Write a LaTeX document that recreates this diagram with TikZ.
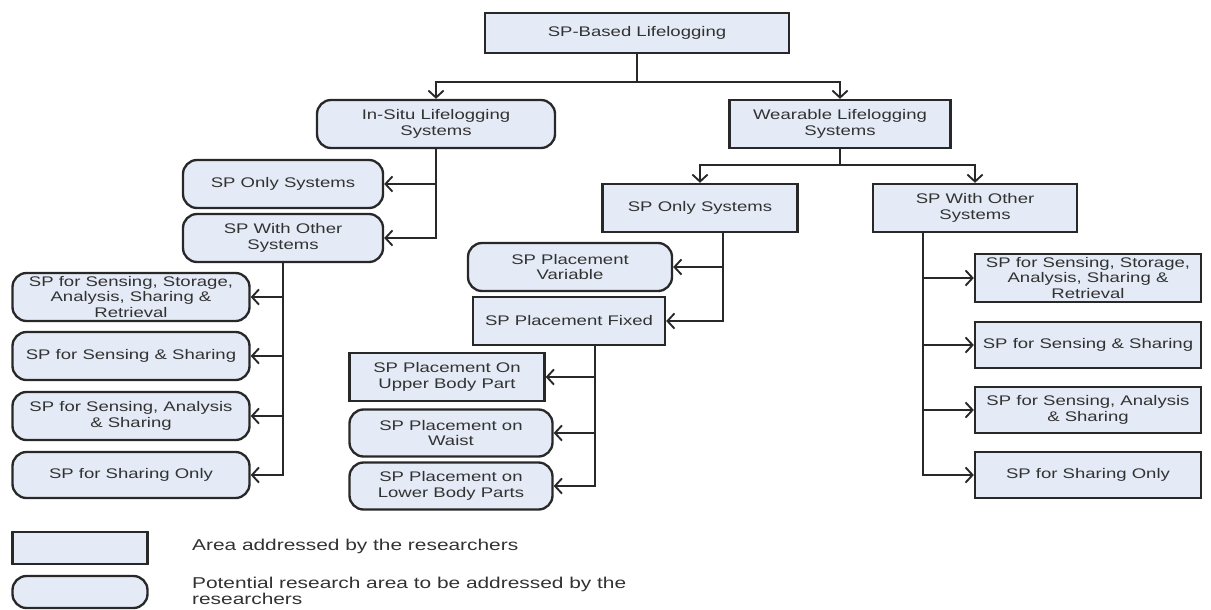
\documentclass[tikz,border=0pt]{standalone}
\usepackage{fontspec}
\setmainfont{Liberation Sans}[FakeStretch=1.33]
\usetikzlibrary{arrows.meta}
\definecolor{boxfill}{RGB}{229,235,246}
\definecolor{boxline}{RGB}{40,40,40}
\definecolor{boxtext}{RGB}{50,50,50}

\begin{document}
\begin{tikzpicture}[x=0.03cm, y=-0.03cm,
  area/.style={draw=boxline, line width=2pt, fill=boxfill, text=boxtext,
    align=center, inner sep=1pt, minimum height=1.44cm,
    font=\fontsize{11.9}{13.6}\selectfont},
  potential/.style={area, rounded corners=12pt},
  link/.style={draw=boxline, line width=2pt},
  arrow/.style={link, -{Straight Barb[length=6pt, width=13pt, line width=1.6pt]}},
  legendtext/.style={anchor=west, align=left, text=boxtext,
    font=\fontsize{13.4}{13.6}\selectfont}]
\useasboundingbox (0,0) rectangle (1211,609);

% top of the tree
\node[area, minimum width=9.12cm, minimum height=1.2cm] (root) at (637,33) {SP-Based Lifelogging};
\node[potential, minimum width=7.14cm] (insitu) at (436,124) {In-Situ Lifelogging\\Systems};
\node[area, minimum width=6.63cm] (wear) at (840,124) {Wearable Lifelogging\\Systems};

% in-situ branch
\node[potential, minimum width=6cm] (lonly) at (283,184) {SP Only Systems};
\node[potential, minimum width=6cm] (lwith) at (283,238) {SP With Other\\Systems};
\node[potential, minimum width=7.11cm] (lsense1) at (131,297) {SP for Sensing, Storage,\\Analysis, Sharing \&\\Retrieval};
\node[potential, minimum width=7.11cm] (lsense2) at (131,356) {SP for Sensing \& Sharing};
\node[potential, minimum width=7.11cm] (lsense3) at (131,416) {SP for Sensing, Analysis\\\& Sharing};
\node[potential, minimum width=7.11cm, minimum height=1.38cm] (lshare) at (131,475) {SP for Sharing Only};

% wearable branch, SP only
\node[area, minimum width=5.85cm] (monly) at (700,208) {SP Only Systems};
\node[potential, minimum width=6.12cm] (var) at (570,267) {SP Placement\\Variable};
\node[area, minimum width=5.76cm] (fixed) at (569,321) {SP Placement Fixed};
\node[area, minimum width=5.85cm] (upper) at (447,377) {SP Placement On\\Upper Body Part};
\node[potential, minimum width=6.09cm, minimum height=1.41cm] (waist) at (451,433) {SP Placement on\\Waist};
\node[potential, minimum width=6.09cm, minimum height=1.41cm] (lower) at (451,486) {SP Placement on\\Lower Body Parts};

% wearable branch, SP with other systems
\node[area, minimum width=6.12cm] (rwith) at (975,208) {SP With Other\\Systems};
\node[area, minimum width=6.78cm] (rsense1) at (1088,278) {SP for Sensing, Storage,\\Analysis, Sharing \&\\Retrieval};
\node[area, minimum width=6.78cm, minimum height=1.38cm] (rsense2) at (1088,345) {SP for Sensing \& Sharing};
\node[area, minimum width=6.78cm, minimum height=1.38cm] (rsense3) at (1088,410) {SP for Sensing, Analysis\\\& Sharing};
\node[area, minimum width=6.78cm, minimum height=1.38cm] (rshare) at (1088,475) {SP for Sharing Only};

% junction points on the trunks
\coordinate (rootjoin) at (637,82);
\coordinate (wearjoin) at (840,165);
\coordinate (monlytrunk) at (723,232);
\coordinate (fixedtrunk) at (595,345);
\coordinate (rwithtrunk) at (923,232);

% connectors
\draw[link] (root.south) -- (rootjoin);
\draw[arrow] (rootjoin) -| (insitu.north);
\draw[arrow] (rootjoin) -| (wear.north);
\draw[arrow] (insitu.south) |- (lonly.east);
\draw[arrow] (insitu.south) |- (lwith.east);
\foreach \leaf in {lsense1,lsense2,lsense3,lshare}
  \draw[arrow] (lwith.south) |- (\leaf.east);
\draw[link] (wear.south) -- (wearjoin);
\draw[arrow] (wearjoin) -| (monly.north);
\draw[arrow] (wearjoin) -| (rwith.north);
\draw[arrow] (monlytrunk) |- (var.east);
\draw[arrow] (monlytrunk) |- (fixed.east);
\foreach \leaf in {upper,waist,lower}
  \draw[arrow] (fixedtrunk) |- (\leaf.east);
\foreach \leaf in {rsense1,rsense2,rsense3,rshare}
  \draw[arrow] (rwithtrunk) |- (\leaf.west);

% legend
\node[area, minimum width=4.05cm, minimum height=0.96cm] (keyarea) at (80,548) {};
\node[potential, minimum width=4.05cm, minimum height=0.96cm] (keypotential) at (80,592) {};
\node[legendtext] (keyareatext) at (188,546) {Area addressed by the researchers};
\node[legendtext] (keypotentialtext) at (188,591) {Potential research area to be addressed by the\\researchers};
\end{tikzpicture}
\end{document}
